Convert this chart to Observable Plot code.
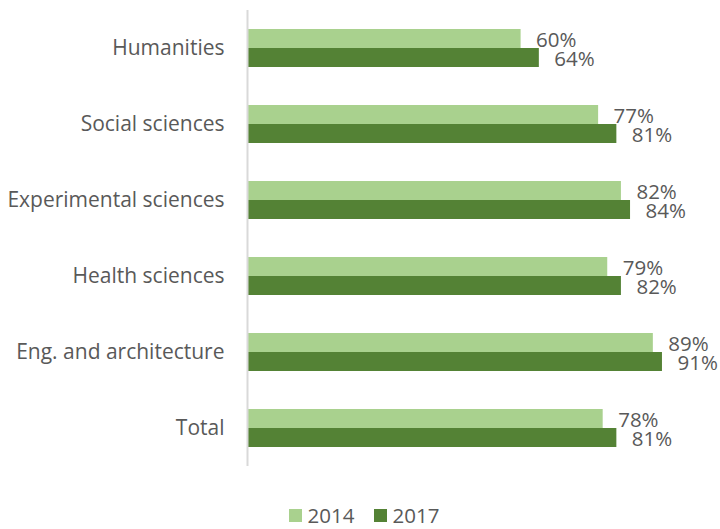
<!DOCTYPE html>
<html>
<head>
<meta charset="utf-8">
<script src="https://cdn.jsdelivr.net/npm/d3@7"></script>
<script src="https://cdn.jsdelivr.net/npm/@observablehq/plot@0.6"></script>
<style>
  html, body { margin: 0; padding: 0; background: #fff; }
  body { width: 720px; font-family: "Open Sans", sans-serif; }
  #legend {
    display: flex; justify-content: center; align-items: center;
    height: 43px; padding-top: 15px; gap: 19px; color: #595959; font-size: 20.5px;
    padding-left: 8px; box-sizing: border-box; line-height: 18px;
  }
  #legend .item { display: flex; align-items: center; gap: 6px; }
  #legend .swatch { width: 13px; height: 13px; display: inline-block; }
</style>
</head>
<body>
<div id="chart"></div>
<div id="legend"></div>
<script>
// Share of graduates by field of study, 2014 vs 2017
const categories = ["Humanities", "Social sciences", "Experimental sciences", "Health sciences", "Eng. and architecture", "Total"];
const years = ["2014", "2017"];
const values2014 = [60, 77, 82, 79, 89, 78];
const values2017 = [64, 81, 84, 82, 91, 81];
const colors = ["#a9d18e", "#548235"];

const rows = categories.flatMap((c, i) => [
  {category: c, year: years[0], value: values2014[i]},
  {category: c, year: years[1], value: values2017[i]}
]);

const chart = Plot.plot({
  width: 720,
  height: 486,
  marginTop: 10,
  marginBottom: 20,
  marginLeft: 247,
  marginRight: 17,
  style: {fontFamily: "Open Sans, sans-serif", color: "#595959", background: "#fff"},
  x: {domain: [0, 100], axis: null},
  y: {domain: years, paddingInner: 0, paddingOuter: 0.95, axis: null},
  fy: {domain: categories, padding: 0, axis: null},
  color: {domain: years, range: colors},
  marks: [
    Plot.barX(rows, {x: "value", y: "year", fy: "category", fill: "year"}),
    Plot.ruleX([0], {stroke: "#d9d9d9", strokeWidth: 2}),
    Plot.text(rows, {
      x: "value", y: "year", fy: "category",
      text: d => d.value + "%",
      textAnchor: "start", dx: 15, dy: 1,
      fontSize: 20.5, fill: "#595959"
    }),
    Plot.axisFy({anchor: "left", tickSize: 0, tickPadding: 23, fontSize: 21, fill: "#595959", label: null})
  ]
});
document.getElementById("chart").appendChild(chart);

const legend = document.getElementById("legend");
years.forEach((y, i) => {
  const item = document.createElement("span");
  item.className = "item";
  const sw = document.createElement("span");
  sw.className = "swatch";
  sw.style.background = colors[i];
  const label = document.createElement("span");
  label.textContent = y;
  item.append(sw, label);
  legend.appendChild(item);
});
</script>
</body>
</html>
